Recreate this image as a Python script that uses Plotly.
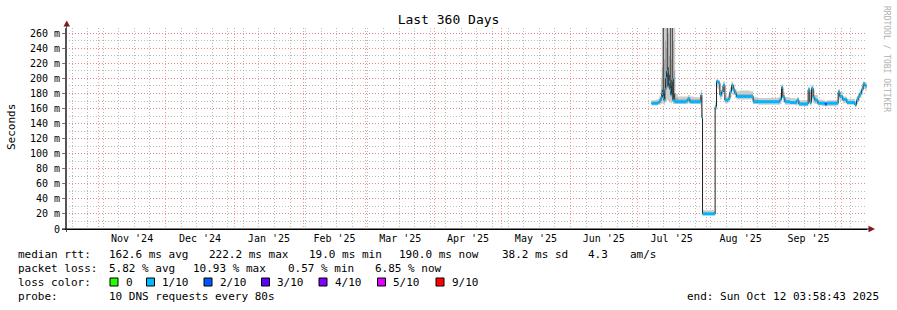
import plotly.graph_objects as go

# ---------------- data ----------------
dates = [
    "2025-07-07 11:00", "2025-07-08 12:00", "2025-07-09 10:00", "2025-07-10 07:00", "2025-07-10 23:00",
    "2025-07-11 16:00", "2025-07-12 02:00", "2025-07-12 13:00", "2025-07-13 00:00", "2025-07-13 11:00",
    "2025-07-13 22:00", "2025-07-14 08:00", "2025-07-14 19:00", "2025-07-15 06:00", "2025-07-15 17:00",
    "2025-07-16 03:00", "2025-07-16 14:00", "2025-07-17 01:00", "2025-07-17 12:00", "2025-07-18 02:00",
    "2025-07-19 07:00", "2025-07-21 02:00", "2025-07-22 21:00", "2025-07-23 19:00", "2025-07-24 16:00",
    "2025-07-26 12:00", "2025-07-28 06:00", "2025-07-29 04:00", "2025-07-29 15:00", "2025-07-30 02:00",
    "2025-07-30 09:00", "2025-07-31 21:00", "2025-08-02 16:00", "2025-08-04 11:00", "2025-08-05 01:00",
    "2025-08-05 16:00", "2025-08-06 10:00", "2025-08-07 04:00", "2025-08-07 22:00", "2025-08-08 15:00",
    "2025-08-09 10:00", "2025-08-10 07:00", "2025-08-10 21:00", "2025-08-11 16:00", "2025-08-12 10:00",
    "2025-08-13 03:00", "2025-08-13 22:00", "2025-08-14 16:00", "2025-08-16 04:00", "2025-08-18 09:00",
    "2025-08-20 15:00", "2025-08-22 03:00", "2025-08-24 06:00", "2025-08-27 09:00", "2025-08-30 13:00",
    "2025-09-02 05:00", "2025-09-03 03:00", "2025-09-03 21:00", "2025-09-04 11:00", "2025-09-05 09:00",
    "2025-09-07 15:00", "2025-09-09 21:00", "2025-09-10 18:00", "2025-09-11 16:00", "2025-09-13 11:00",
    "2025-09-15 01:00", "2025-09-15 20:00", "2025-09-16 14:00", "2025-09-17 09:00", "2025-09-18 02:00",
    "2025-09-18 20:00", "2025-09-20 05:00", "2025-09-22 00:00", "2025-09-23 08:00", "2025-09-24 06:00",
    "2025-09-26 12:00", "2025-09-28 14:00", "2025-09-29 08:00", "2025-09-30 02:00", "2025-10-01 10:00",
    "2025-10-03 06:00", "2025-10-05 01:00", "2025-10-06 20:00", "2025-10-07 14:00", "2025-10-08 07:00",
    "2025-10-09 02:00", "2025-10-09 20:00", "2025-10-10 13:00", "2025-10-11 08:00", "2025-10-12 03:00",
]
median_ms = [
    167, 167, 167, 168, 170, 174, 180, 175, 171, 185,
    200, 209, 189, 195, 185, 178, 198, 171, 170, 169,
    169, 169, 170, 173, 169, 169, 169, 169, 178, 148,
    20, 20, 20, 20, 162, 196, 194, 178, 182, 191,
    171, 171, 173, 182, 191, 185, 180, 176, 176, 176,
    176, 169, 169, 169, 169, 169, 172, 188, 175, 169,
    168, 168, 171, 166, 166, 166, 185, 168, 187, 175,
    171, 167, 167, 166, 167, 167, 167, 182, 176, 172,
    168, 168, 165, 171, 176, 180, 185, 193, 190, 190,
]
ping_min = [
    164, 164, 164, 165, 165, 166, 167, 166, 165, 168,
    170, 172, 170, 168, 168, 167, 169, 166, 166, 166,
    166, 166, 166, 167, 166, 166, 166, 165, 160, 140,
    19, 19, 19, 19, 158, 188, 186, 172, 176, 182,
    167, 167, 168, 175, 183, 178, 174, 172, 172, 172,
    172, 166, 165, 165, 165, 165, 166, 178, 168, 165,
    165, 164, 165, 163, 163, 163, 170, 164, 172, 167,
    166, 164, 163, 163, 163, 163, 164, 172, 170, 167,
    165, 165, 162, 166, 170, 174, 178, 186, 184, 184,
]
ping_max = [
    171, 171, 172, 173, 176, 200, 280, 280, 280, 280,
    280, 280, 280, 280, 280, 280, 280, 280, 280, 180,
    176, 176, 176, 178, 176, 175, 175, 178, 185, 160,
    25, 25, 25, 24, 168, 200, 198, 185, 190, 196,
    178, 176, 179, 188, 196, 192, 186, 183, 184, 184,
    183, 175, 174, 174, 174, 175, 179, 192, 182, 175,
    174, 173, 175, 171, 171, 171, 189, 178, 191, 185,
    178, 172, 171, 170, 171, 171, 172, 186, 182, 176,
    173, 173, 170, 176, 181, 185, 190, 196, 195, 195,
]
ping_mid = [
    169, 169, 169, 170, 172, 185, 215, 280, 225, 250,
    240, 280, 260, 230, 280, 225, 280, 250, 210, 174,
    172, 172, 172, 175, 172, 172, 172, 172, 181, 152,
    22, 22, 22, 22, 165, 198, 196, 181, 185, 193,
    174, 173, 176, 185, 193, 188, 183, 179, 179, 179,
    179, 172, 171, 171, 171, 171, 175, 190, 178, 171,
    170, 170, 173, 168, 168, 168, 187, 171, 189, 178,
    173, 169, 169, 168, 169, 169, 169, 184, 178, 174,
    170, 170, 167, 173, 178, 182, 187, 194, 192, 192,
]
ping_dark = [
    167, 167, 167, 168, 170, 176, 185, 280, 180, 200,
    210, 280, 215, 205, 280, 190, 280, 200, 180, 169,
    169, 169, 170, 173, 169, 169, 169, 169, 178, 148,
    20, 20, 20, 20, 162, 196, 194, 178, 182, 191,
    171, 171, 173, 182, 191, 185, 180, 176, 176, 176,
    176, 169, 169, 169, 169, 169, 172, 188, 175, 169,
    168, 168, 171, 166, 166, 166, 185, 168, 187, 175,
    171, 167, 167, 166, 167, 167, 167, 182, 176, 172,
    168, 168, 165, 171, 176, 180, 185, 193, 190, 190,
]
loss_class = [1] * 73 + [2] + [1] * 16

loss_labels = ["0", "1/10", "2/10", "3/10", "4/10", "5/10", "9/10"]
loss_colors = ["#26ff00", "#00b8ff", "#0059ff", "#5e00ff", "#7e00ff", "#dd00ff", "#ff0000"]
loss_index = {0: 0, 1: 1, 2: 2, 3: 3, 4: 4, 5: 5, 9: 6}

y_ticks = list(range(0, 261, 20))
y_ticktext = ["0"] + [f"{v} m" for v in y_ticks[1:]]

x_range = ["2024-10-17 07:00", "2025-10-12 07:00"]

stats_rtt = ["162.6 ms avg", "222.2 ms max", "19.0 ms min", "190.0 ms now", "38.2 ms sd", "4.3", "am/s"]
stats_loss = ["5.82 % avg", "10.93 % max", "0.57 % min", "6.85 % now"]

# ---------------- layout helpers ----------------
W, H = 897, 310
L, R, T, B = 66, 30, 28, 81
PW, PH = W - L - R, H - T - B


def px(x):
    return (x - L) / PW


def py(y):
    return (H - B - y) / PH


MONO = "DejaVu Sans Mono"
fig = go.Figure()


def band(lower, upper, color):
    fig.add_trace(go.Scatter(x=dates, y=lower, mode="lines", line=dict(width=0, shape="hv"),
                             hoverinfo="skip", showlegend=False))
    fig.add_trace(go.Scatter(x=dates, y=upper, mode="lines", line=dict(width=0, shape="hv"),
                             fill="tonexty", fillcolor=color, hoverinfo="skip", showlegend=False))


band(ping_min, ping_max, "#cccccc")
band(median_ms, ping_mid, "#a6a6a6")
band(median_ms, ping_dark, "#4a4a4a")

# median black step line
fig.add_trace(go.Scatter(x=dates, y=median_ms, mode="lines",
                         line=dict(color="#202020", width=1, shape="hv"),
                         hoverinfo="skip", showlegend=False))

# loss-colored median segments (horizontal only)
for cls, idx in loss_index.items():
    sx, sy = [], []
    for i in range(len(dates) - 1):
        if loss_class[i] == cls:
            sx += [dates[i], dates[i + 1], None]
            sy += [median_ms[i], median_ms[i], None]
    if sx:
        fig.add_trace(go.Scatter(x=sx, y=sy, mode="lines",
                                 line=dict(color=loss_colors[idx], width=3),
                                 hoverinfo="skip", showlegend=False))

fig.update_layout(
    width=W, height=H, margin=dict(l=L, r=R, t=T, b=B),
    paper_bgcolor="white", plot_bgcolor="white",
    font=dict(family=MONO, size=11, color="black"),
    title=dict(text="Last 360 Days", xanchor="center", xref="paper",
               y=1 - 19 / H, yanchor="middle", yref="container",
               font=dict(family=MONO, size=13, color="black")),
    showlegend=False,
)
fig.update_layout(title_x=px(448.5))

fig.update_xaxes(
    type="date", range=x_range,
    tick0="2024-11-01", dtick="M1", tickformat="%b '%y", ticklabelmode="period",
    showgrid=True, gridcolor="rgba(240,120,120,0.75)", griddash="1px,2px", gridwidth=1,
    minor=dict(tick0="2024-10-20", dtick=7 * 86400000, showgrid=True,
               gridcolor="rgba(170,170,170,0.8)", griddash="1px,2px", gridwidth=1),
    ticks="", tickfont=dict(family=MONO, size=10, color="black"),
    showline=True, linecolor="black", linewidth=1, zeroline=False,
)
fig.update_yaxes(
    range=[0, 267], tickmode="array", tickvals=y_ticks, ticktext=y_ticktext,
    showgrid=True, gridcolor="rgba(240,120,120,0.75)", griddash="1px,2px", gridwidth=1,
    minor=dict(tickmode="linear", tick0=0, dtick=10, showgrid=True,
               gridcolor="rgba(170,170,170,0.8)", griddash="1px,2px", gridwidth=1),
    ticks="outside", ticklen=3, tickcolor="#777777",
    tickfont=dict(family=MONO, size=10, color="black"),
    showline=True, linecolor="#555555", linewidth=1, zeroline=False,
)

ann = []


def text(x, y, s, size=11, anchor="left", color="black", angle=0):
    ann.append(dict(x=px(x), y=py(y), xref="paper", yref="paper", text=s, showarrow=False,
                    xanchor=anchor, yanchor="middle", textangle=angle,
                    font=dict(family=MONO, size=size, color=color)))


text(11, 127, "Seconds", size=11, anchor="center", angle=-90)
text(886, 59, "RRDTOOL / TOBI OETIKER", size=8, anchor="center", color="#b0b0b0", angle=90)

rtt_x = [107, 207, 307, 397, 500, 586, 628]
text(16, 254, "median rtt:")
for xx, s in zip(rtt_x, stats_rtt):
    text(xx, 254, s)
loss_x = [107, 191, 286, 373]
text(16, 268, "packet loss:")
for xx, s in zip(loss_x, stats_loss):
    text(xx, 268, s)
text(16, 282, "loss color:")
sq_x = [110, 146.5, 204, 261.5, 319, 377.5, 436]
shapes = []
for xx, lab, col in zip(sq_x, loss_labels, loss_colors):
    shapes.append(dict(type="rect", xref="paper", yref="paper",
                       x0=px(xx), x1=px(xx + 8), y0=py(286), y1=py(278),
                       fillcolor=col, line=dict(color="black", width=1)))
    text(xx + 13.5, 282, lab)
text(16, 296, "probe:")
text(107, 296, "10 DNS requests every 80s")
text(881, 296, "end: Sun Oct 12 03:58:43 2025", anchor="right")

# axis extensions and arrows
shapes.append(dict(type="line", xref="paper", yref="paper", x0=px(66.5), x1=px(66.5),
                   y0=py(232), y1=py(25), line=dict(color="#555555", width=1)))
shapes.append(dict(type="line", xref="paper", yref="paper", x0=px(62), x1=px(869),
                   y0=py(229), y1=py(229), line=dict(color="black", width=1)))
shapes.append(dict(type="path", xref="paper", yref="paper",
                   path=f"M {px(63.5)} {py(26.5)} L {px(70)} {py(26.5)} L {px(66.75)} {py(20.5)} Z",
                   fillcolor="#7d1a1a", line=dict(color="#7d1a1a", width=0)))
shapes.append(dict(type="path", xref="paper", yref="paper",
                   path=f"M {px(868.5)} {py(225.8)} L {px(868.5)} {py(232.2)} L {px(875)} {py(229)} Z",
                   fillcolor="#7d1a1a", line=dict(color="#7d1a1a", width=0)))

fig.update_layout(annotations=ann, shapes=shapes)
fig.write_html("out.html")
